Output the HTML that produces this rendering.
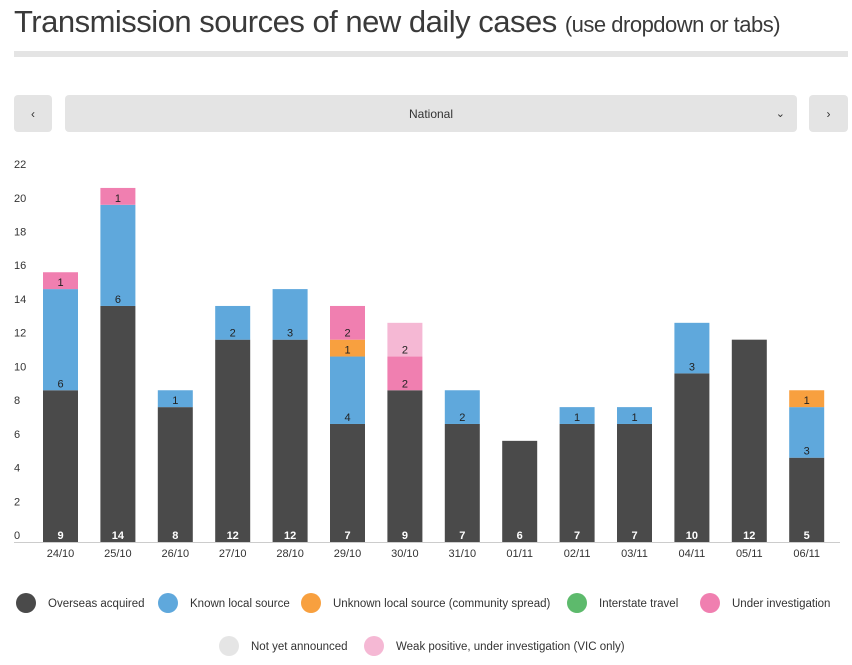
<!DOCTYPE html>
<html><head><meta charset="utf-8"><style>
body{margin:0;width:852px;height:665px;background:#fff;font-family:"Liberation Sans",sans-serif;color:#333;overflow:hidden;position:relative}
.t{position:absolute;left:14px;top:4px;font-size:31px;color:#3a3a3a;letter-spacing:-0.5px;white-space:nowrap}
.t span{font-size:22px}
.rule{position:absolute;left:14px;top:51px;width:834px;height:6px;background:#e4e4e4}
.btn{position:absolute;top:95px;height:37px;background:#e4e4e4;border-radius:4px;font-size:12px;display:flex;align-items:center;justify-content:center;color:#333}
</style></head><body>
<div class="t">Transmission sources of new daily cases <span>(use dropdown or tabs)</span></div>
<div class="rule"></div>
<div class="btn" style="left:14px;width:38px">‹</div>
<div class="btn" style="left:65px;width:732px">National<span style="position:absolute;right:12px;font-size:11px">⌄</span></div>
<div class="btn" style="left:809px;width:39px">›</div>
<svg id="c" width="852" height="665" style="position:absolute;left:0;top:0"></svg>
<script>
const dates=["24/10","25/10","26/10","27/10","28/10","29/10","30/10","31/10","01/11","02/11","03/11","04/11","05/11","06/11"];
const overseas=[9,14,8,12,12,7,9,7,6,7,7,10,12,5];
const knownLocal=[6,6,1,2,3,4,0,2,0,1,1,3,0,3];
const unknownLocal=[0,0,0,0,0,1,0,0,0,0,0,0,0,1];
const interstate=[0,0,0,0,0,0,0,0,0,0,0,0,0,0];
const underInv=[1,1,0,0,0,2,2,0,0,0,0,0,0,0];
const notYet=[0,0,0,0,0,0,0,0,0,0,0,0,0,0];
const weakPos=[0,0,0,0,0,0,2,0,0,0,0,0,0,0];
const yTicks=[0,2,4,6,8,10,12,14,16,18,20,22];
const seriesNames=["Overseas acquired","Known local source","Unknown local source (community spread)","Interstate travel","Under investigation","Not yet announced","Weak positive, under investigation (VIC only)"];
const series=[overseas,knownLocal,unknownLocal,interstate,underInv,notYet,weakPos];
const colors=["#4a4a4a","#5fa8dc","#f8a03f","#5dba6c","#f07fb0","#e5e5e5","#f5b8d4"];
const NS="http://www.w3.org/2000/svg",svg=document.getElementById('c');
const y0=542,k=16.86;
const y=v=>y0-v*k;
const x=i=>43+i*57.4;
const bw=35;
function mk(t,a,txt){const e=document.createElementNS(NS,t);for(const n in a)e.setAttribute(n,a[n]);if(txt!=null)e.textContent=txt;svg.appendChild(e);return e;}
yTicks.forEach(v=>{const e=mk('text',{x:14,y:y(v)-3,'font-size':11,fill:'#333'},v);

});
const ax=mk('line',{x1:14,x2:840,y1:y0+0.5,y2:y0+0.5,stroke:'#ccc'});


dates.forEach((d,i)=>{
 let acc=0;
 series.forEach((s,si)=>{
  const v=s[i];if(!v)return;
  const r=mk('rect',{x:x(i),y:y(acc+v),width:bw,height:v*k,fill:colors[si]});
  
  
  const ty=y(acc)-3;
  const l=mk('text',{x:x(i)+bw/2,y:ty,'text-anchor':'middle','font-size':11,fill:si==0?'#fff':'#222','font-weight':si==0?'bold':'normal'},v);
  
  
  acc+=v;
 });
 const t=mk('text',{x:x(i)+bw/2,y:y0+15,'text-anchor':'middle','font-size':11,fill:'#333'},d);
 
 
});
const leg=[[26,603],[168,603],[311,603],[577,603],[710,603],[229,646],[374,646]];
seriesNames.forEach((n,i)=>{
 const [cx,cy]=leg[i];
 const c=mk('circle',{cx:cx,cy:cy,r:10,fill:colors[i]});
 
 
 const t=mk('text',{x:cx+22,y:cy+4,'font-size':11.5,fill:'#333'},n);
 
 
});
</script>
</body></html>
